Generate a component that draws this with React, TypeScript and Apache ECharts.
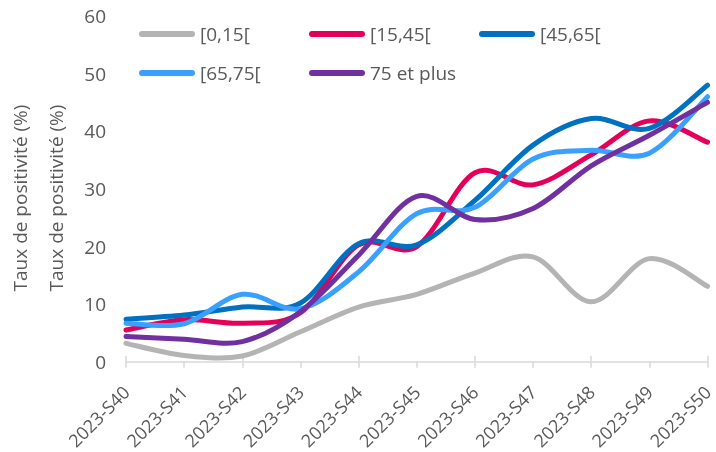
import React, { useEffect, useRef } from "react";
import * as echarts from "echarts";

const categories = [
  "2023-S40", "2023-S41", "2023-S42", "2023-S43", "2023-S44", "2023-S45",
  "2023-S46", "2023-S47", "2023-S48", "2023-S49", "2023-S50",
];
const seriesNames = ["[0,15[", "[15,45[", "[45,65[", "[65,75[", "75 et plus"];
const age0_15 = [3.2, 1.1, 1.0, 5.2, 9.5, 11.7, 15.4, 18.2, 10.4, 17.9, 13.1];
const age15_45 = [5.5, 7.3, 6.7, 8.5, 20.3, 20.0, 32.8, 30.7, 35.9, 41.8, 38.1];
const age45_65 = [7.4, 8.1, 9.5, 10.2, 20.5, 20.3, 28.0, 37.6, 42.2, 40.5, 48.0];
const age65_75 = [6.7, 6.6, 11.7, 9.2, 15.6, 25.7, 26.8, 35.2, 36.7, 36.2, 46.0];
const age75plus = [4.4, 3.9, 3.5, 8.7, 18.5, 28.7, 24.7, 26.6, 34.0, 39.3, 45.0];
const seriesData = [age0_15, age15_45, age45_65, age65_75, age75plus];
const colors = ["#b4b4b4", "#e4005a", "#0070c0", "#3aa0ff", "#7030a0"];
const yTitle = "Taux de positivité (%)";

const FONT = "'Open Sans', sans-serif";
const TXT = "#595959";

function makeRenderItem(values: number[], color: string) {
  return (params: any, api: any) => {
    if (params.dataIndex !== 0) return null;
    const pts = values.map((v, k) => api.coord([k, v]));
    let d = `M${pts[0][0]},${pts[0][1]}`;
    for (let i = 0; i < pts.length - 1; i++) {
      const p0 = pts[Math.max(i - 1, 0)];
      const p1 = pts[i];
      const p2 = pts[i + 1];
      const p3 = pts[Math.min(i + 2, pts.length - 1)];
      const c1x = p1[0] + (p2[0] - p0[0]) / 6;
      const c1y = p1[1] + (p2[1] - p0[1]) / 6;
      const c2x = p2[0] - (p3[0] - p1[0]) / 6;
      const c2y = p2[1] - (p3[1] - p1[1]) / 6;
      d += ` C${c1x},${c1y} ${c2x},${c2y} ${p2[0]},${p2[1]}`;
    }
    return {
      type: "path",
      shape: { pathData: d },
      style: {
        fill: "none",
        stroke: color,
        lineWidth: 5,
        lineCap: "round",
        lineJoin: "round",
      },
    };
  };
}

export default function App() {
  const ref = useRef<HTMLDivElement>(null);
  useEffect(() => {
    if (!ref.current) return;
    const chart = echarts.init(ref.current, null, { renderer: "svg" });
    const legendPos = [
      { left: 139, top: 24 },
      { left: 309, top: 24 },
      { left: 479, top: 24 },
      { left: 139, top: 63 },
      { left: 309, top: 63 },
    ];
    const pill = "path://M3,0 L53,0 A3,3 0 0 1 53,6 L3,6 A3,3 0 0 1 3,0 Z";
    chart.setOption({
      animation: false,
      textStyle: { fontFamily: FONT },
      grid: { left: 126, width: 587, top: 16, bottom: 90, containLabel: false },
      legend: seriesNames.map((n, i) => ({
        data: [n],
        left: legendPos[i].left,
        top: legendPos[i].top,
        padding: 0,
        itemWidth: 56,
        itemHeight: 6,
        icon: pill,
        textStyle: { color: TXT, fontSize: 19, fontFamily: FONT, lineHeight: 20 },
        selectedMode: false,
      })),
      xAxis: [
        {
          type: "category",
          data: categories,
          boundaryGap: false,
          axisLine: { lineStyle: { color: "#d9d9d9", width: 1.5 } },
          axisTick: { show: true, length: 6, lineStyle: { color: "#d9d9d9", width: 1.5 } },
          axisLabel: {
            rotate: 45,
            margin: 27,
            color: TXT,
            fontSize: 18,
            fontFamily: FONT,
            interval: 0,
          },
        },
        {
          type: "category",
          data: categories,
          boundaryGap: false,
          position: "bottom",
          axisLine: { show: false },
          axisTick: { show: true, inside: true, length: 6, lineStyle: { color: "#d9d9d9", width: 1.5 } },
          axisLabel: { show: false },
        },
      ],
      yAxis: {
        type: "value",
        min: 0,
        max: 60,
        interval: 10,
        axisLine: { show: false },
        axisTick: { show: false },
        splitLine: { show: false },
        axisLabel: { color: TXT, fontSize: 19, fontFamily: FONT, margin: 20 },
      },
      series: seriesNames.map((n, i) => ({
        name: n,
        type: "custom",
        data: seriesData[i].map((v, k) => [k, v]),
        encode: { x: 0, y: 1 },
        itemStyle: { color: colors[i] },
        renderItem: makeRenderItem(seriesData[i], colors[i]),
        clip: false,
      })),
      graphic: [
        {
          type: "text",
          x: 20,
          y: 198,
          rotation: Math.PI / 2,
          style: {
            text: yTitle,
            fill: TXT,
            font: `19px ${FONT}`,
            align: "center",
            verticalAlign: "middle",
          },
        },
        {
          type: "text",
          x: 56,
          y: 198,
          rotation: Math.PI / 2,
          style: {
            text: yTitle,
            fill: TXT,
            font: `19px ${FONT}`,
            align: "center",
            verticalAlign: "middle",
          },
        },
      ],
    });
    return () => chart.dispose();
  }, []);
  return (
    <div
      ref={ref}
      style={{ position: "fixed", left: 0, top: 0, width: 716, height: 452 }}
    />
  );
}
